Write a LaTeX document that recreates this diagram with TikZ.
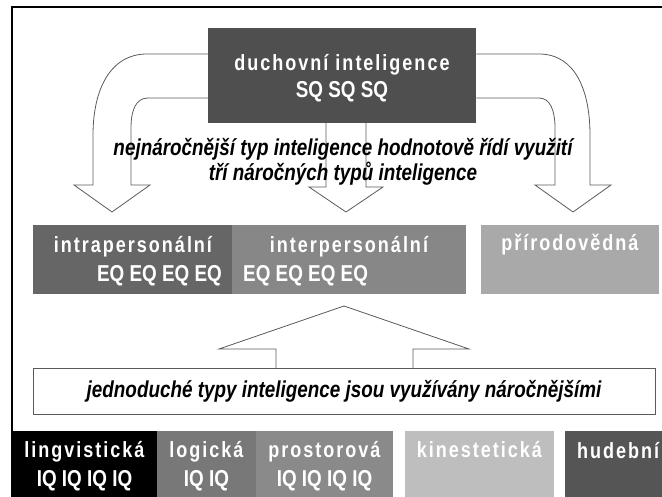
\documentclass[tikz,border=0pt]{standalone}
\usepackage{fontspec}
\setmainfont{Liberation Sans}
\newfontfamily\narrowfont[FakeStretch=0.82]{Liberation Sans}
\newfontfamily\spacedfont[FakeStretch=0.82,LetterSpace=9]{Liberation Sans}

\definecolor{duchgray}{HTML}{4F4F4F}
\definecolor{intragray}{HTML}{666666}
\definecolor{intergray}{HTML}{878787}
\definecolor{prirgray}{HTML}{A9A9A9}
\definecolor{logigray}{HTML}{787878}
\definecolor{prosgray}{HTML}{8A8A8A}
\definecolor{kingray}{HTML}{BEBEBE}
\definecolor{hudgray}{HTML}{555555}
\definecolor{arrowgray}{HTML}{5A5A5A}

\tikzset{
  box/.style={fill=#1, inner sep=0pt, anchor=north west},
  lbl/.style={text=white, font={\spacedfont\bfseries\fontsize{22}{24}\selectfont}, inner sep=0pt, anchor=base},
  qlbl/.style={text=white, font={\narrowfont\bfseries\fontsize{23}{25}\selectfont}, inner sep=0pt, anchor=base},
  note/.style={font={\narrowfont\bfseries\itshape\fontsize{23}{25}\selectfont}, inner sep=0pt, anchor=base},
  blockarrow/.style={draw=arrowgray, line width=0.8pt, line join=miter},
}

\begin{document}
\begin{tikzpicture}[x=1pt, y=-1pt]
  \useasboundingbox (0,0) rectangle (662,497);
  \draw[line width=2pt] (12,7) rectangle (720,540);

  \node[box=duchgray, minimum width=268pt, minimum height=95pt] (duch) at (208,28) {};
  \node[box=intragray, minimum width=199pt, minimum height=69pt] (intra) at (33,225) {};
  \node[box=intergray, minimum width=234pt, minimum height=69pt] (inter) at (232,225) {};
  \node[box=prirgray, minimum width=178pt, minimum height=69pt] (prir) at (481,225) {};
  \node[box=black, minimum width=145pt, minimum height=80pt] (ling) at (12,431) {};
  \node[box=logigray, minimum width=99pt, minimum height=80pt] (logi) at (157,431) {};
  \node[box=prosgray, minimum width=137pt, minimum height=80pt] (pros) at (256,431) {};
  \node[box=kingray, minimum width=149pt, minimum height=80pt] (kin) at (405,431) {};
  \node[box=hudgray, minimum width=140pt, minimum height=80pt] (hud) at (565,431) {};

  % block arrows from the top box
  \draw[blockarrow] (duch.west |- 0,54) -- (147,54) .. controls (110,54) and (93,90) .. (93,135)
    -- (93,185) -- (74,185) -- (112,212) -- (150,185) -- (131,185) -- (131,128)
    .. controls (131,110) and (136,98) .. (148,98) -- (duch.west |- 0,98);
  \draw[blockarrow] (326,123) -- (326,187) -- (309,187) -- (346,212) -- (383,187) -- (366,187) -- (366,123);
  \draw[blockarrow] (duch.east |- 0,54) -- (539,54) .. controls (575,54) and (590,90) .. (590,135)
    -- (590,185) -- (611,185) -- (573,212) -- (535,185) -- (555,185) -- (555,128)
    .. controls (555,110) and (550,98) .. (539,98) -- (duch.east |- 0,98);
  \draw[blockarrow] (276,368) -- (276,349) -- (219,349) -- (344,306) -- (469,349) -- (413,349) -- (413,368);
  \node[box=white, draw=arrowgray, line width=0.8pt, minimum width=622pt, minimum height=46pt] (simple) at (33,368) {};

  \node[lbl] (duchT) at (342,71) {duchovní inteligence};
  \node[qlbl] (duchQ) at (342,98) {SQ SQ SQ};
  \node[note] (topnoteA) at (343,156) {nejnáročnější typ inteligence hodnotově řídí využití};
  \node[note] (topnoteB) at (343,181) {tří náročných typů inteligence};

  \node[lbl] (intraT) at (133,253) {intrapersonální};
  \node[qlbl, anchor=base east] (intraQ) at (222,282) {EQ EQ EQ EQ};
  \node[lbl] (interT) at (349,253) {interpersonální};
  \node[qlbl, anchor=base west] (interQ) at (243,282) {EQ EQ EQ EQ};
  \node[lbl] (prirT) at (570,251) {přírodovědná};

  \node[note] (simpleT) at (344,397) {jednoduché typy inteligence jsou využívány náročnějšími};

  \node[lbl] (lingT) at (84.5,457) {lingvistická};
  \node[qlbl] (lingQ) at (84.5,486) {IQ IQ IQ IQ};
  \node[lbl] (logiT) at (206.5,457) {logická};
  \node[qlbl] (logiQ) at (206.5,486) {IQ IQ};
  \node[lbl] (prosT) at (324.5,457) {prostorová};
  \node[qlbl] (prosQ) at (324.5,486) {IQ IQ IQ IQ};
  \node[lbl] (kinT) at (479.5,457) {kinestetická};
  \node[lbl, anchor=base west] (hudT) at (577,458) {hudební};
\end{tikzpicture}
\end{document}
